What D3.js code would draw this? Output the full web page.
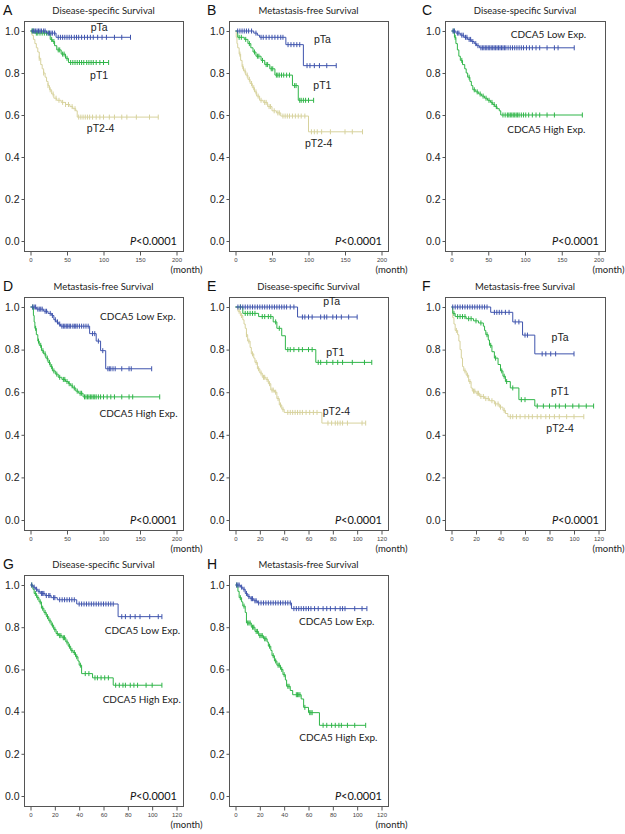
<!DOCTYPE html>
<html>
<head>
<meta charset="utf-8">
<script src="https://cdn.jsdelivr.net/npm/d3@7"></script>
<style>
  body { margin: 0; background: #fff; }
  svg { display: block; }
</style>
</head>
<body>
<div id="chart"></div>
<script>
// Panel text
var letters = ["A", "B", "C", "D", "E", "F", "G", "H"];
var titles = ["Disease-specific Survival", "Metastasis-free Survival", "Disease-specific Survival",
  "Metastasis-free Survival", "Disease-specific Survival", "Metastasis-free Survival",
  "Disease-specific Survival", "Metastasis-free Survival"];
var xMaxes = [200, 200, 200, 200, 120, 120, 120, 120];
var xTicks200 = [0, 50, 100, 150, 200];
var xTicks120 = [0, 20, 40, 60, 80, 100, 120];
var yTicks = [0, 0.2, 0.4, 0.6, 0.8, 1.0];
var pText = "<0.0001";

// Kaplan-Meier steps [month, survival] and censor times
// A
var aTaSteps = [[0, 1], [22, 0.99], [35, 0.97]];
var aTaCens = [3, 5, 7, 9, 11, 13, 15, 18, 20, 24, 26, 28, 30, 33, 38, 41, 44, 47, 50, 53, 56, 60, 63, 66, 70, 74, 78, 82, 86, 92, 98, 104, 115, 125, 137];
var aT1Steps = [[0, 1], [5, 0.99], [27, 0.96], [30, 0.95], [33, 0.93], [36, 0.91], [42, 0.89], [48, 0.87], [52, 0.85]];
var aT1Cens = [2, 4, 8, 10, 13, 16, 19, 22, 25, 29, 32, 38, 40, 44, 46, 50, 55, 58, 61, 64, 67, 70, 73, 77, 80, 83, 86, 90, 95, 100, 107];
var aT24Steps = [[0, 1], [2, 0.98], [4, 0.96], [6, 0.94], [8, 0.92], [10, 0.9], [12, 0.87], [14, 0.84], [16, 0.82], [18, 0.8], [20, 0.78], [22, 0.76], [24, 0.74], [26, 0.72], [29, 0.7], [32, 0.68], [36, 0.67], [42, 0.66], [48, 0.65], [54, 0.64], [58, 0.63], [62, 0.62], [64, 0.59]];
var aT24Cens = [12, 18, 24, 27, 31, 35, 39, 44, 48, 52, 57, 61, 66, 69, 72, 75, 78, 81, 85, 90, 95, 100, 108, 115, 125, 132, 145, 163, 175];
// B
var bTaSteps = [[0, 1], [25, 0.99], [30, 0.98], [33, 0.97], [69, 0.935], [93, 0.835]];
var bTaCens = [3, 6, 9, 12, 15, 18, 22, 28, 35, 38, 42, 46, 50, 54, 58, 62, 65, 72, 76, 80, 84, 88, 98, 102, 108, 115, 125, 138];
var bT1Steps = [[0, 1], [3, 0.97], [12, 0.96], [17, 0.94], [21, 0.92], [24, 0.9], [28, 0.88], [35, 0.86], [40, 0.84], [47, 0.82], [54, 0.79], [78, 0.74], [86, 0.67]];
var bT1Cens = [5, 8, 14, 19, 26, 30, 32, 37, 42, 44, 49, 51, 56, 58, 60, 63, 66, 70, 74, 81, 83, 88, 90, 93, 96, 100, 107];
var bT24Steps = [[0, 1], [1, 0.97], [2, 0.94], [3, 0.92], [5, 0.89], [7, 0.86], [9, 0.83], [11, 0.81], [14, 0.79], [17, 0.77], [20, 0.75], [23, 0.73], [26, 0.71], [29, 0.69], [33, 0.67], [38, 0.66], [44, 0.64], [50, 0.62], [56, 0.61], [62, 0.595], [100, 0.52]];
var bT24Cens = [6, 10, 13, 16, 19, 22, 25, 28, 31, 35, 40, 42, 46, 48, 53, 58, 60, 65, 68, 71, 74, 78, 82, 86, 90, 95, 104, 108, 112, 118, 130, 150, 160, 174];
// C
var cLowSteps = [[0, 1], [6, 0.99], [12, 0.98], [17, 0.97], [22, 0.96], [27, 0.95], [31, 0.94], [34, 0.93], [38, 0.92]];
var cLowCens = [2, 4, 8, 10, 14, 16, 19, 21, 24, 26, 29, 33, 36, 40, 42, 44, 46, 48, 50, 52, 54, 56, 58, 60, 62, 64, 66, 68, 70, 72, 74, 77, 80, 83, 86, 89, 92, 95, 98, 102, 106, 110, 115, 120, 130, 140, 145, 167];
var cHighSteps = [[0, 1], [4, 0.97], [6, 0.94], [8, 0.91], [10, 0.88], [12, 0.86], [15, 0.84], [18, 0.82], [20, 0.8], [22, 0.78], [25, 0.76], [27, 0.74], [29, 0.72], [33, 0.71], [37, 0.7], [41, 0.69], [45, 0.68], [49, 0.67], [53, 0.66], [56, 0.65], [59, 0.64], [62, 0.63], [65, 0.62], [67, 0.6]];
var cHighCens = [3, 5, 14, 24, 31, 35, 39, 43, 47, 51, 55, 58, 61, 70, 73, 76, 78, 80, 82, 84, 86, 88, 90, 92, 95, 98, 101, 105, 110, 115, 120, 130, 140, 178];
// D
var dLowSteps = [[0, 1], [8, 0.99], [18, 0.98], [24, 0.97], [29, 0.96], [32, 0.94], [35, 0.93], [38, 0.92], [41, 0.91], [81, 0.875], [90, 0.84], [96, 0.795], [103, 0.71]];
var dLowCens = [3, 5, 7, 10, 12, 14, 16, 20, 22, 27, 30, 34, 37, 40, 43, 45, 47, 49, 51, 53, 55, 58, 60, 62, 64, 67, 70, 73, 76, 79, 85, 88, 93, 99, 106, 108, 110, 113, 116, 125, 135, 138, 166];
var dHighSteps = [[0, 1], [4, 0.96], [5, 0.93], [6, 0.9], [8, 0.87], [10, 0.84], [12, 0.82], [15, 0.795], [18, 0.78], [21, 0.76], [24, 0.74], [27, 0.72], [30, 0.7], [34, 0.685], [38, 0.67], [43, 0.66], [48, 0.65], [52, 0.64], [55, 0.63], [58, 0.62], [62, 0.605], [66, 0.595], [72, 0.578]];
var dHighCens = [3, 7, 11, 14, 17, 20, 23, 26, 29, 32, 36, 40, 45, 47, 50, 53, 57, 60, 64, 68, 70, 74, 76, 78, 80, 82, 84, 86, 88, 90, 93, 96, 100, 105, 110, 115, 125, 135, 140, 177];
// E
var eTaSteps = [[0, 1], [51, 0.953]];
var eTaCens = [2, 4, 6, 8, 10, 12, 14, 16, 18, 20, 22, 24, 26, 28, 30, 32, 34, 36, 38, 40, 42, 45, 48, 55, 57, 60, 63, 70, 73, 75, 80, 83, 87, 93, 100];
var eT1Steps = [[0, 1], [6, 0.97], [19, 0.955], [31, 0.93], [34, 0.9], [38, 0.865], [41, 0.8], [66, 0.74]];
var eT1Cens = [4, 8, 10, 12, 14, 16, 22, 24, 27, 29, 33, 36, 43, 45, 48, 52, 55, 60, 63, 68, 70, 75, 80, 84, 88, 96, 106, 112];
var eT24Steps = [[0, 1], [2, 0.98], [4, 0.96], [6, 0.94], [7, 0.92], [8, 0.9], [9, 0.87], [10, 0.84], [12, 0.81], [13, 0.78], [15, 0.76], [16, 0.74], [18, 0.71], [20, 0.69], [22, 0.67], [25, 0.66], [27, 0.64], [29, 0.61], [32, 0.6], [34, 0.57], [36, 0.54], [38, 0.52], [40, 0.505], [71, 0.455]];
var eT24Cens = [3, 5, 9, 11, 14, 17, 19, 21, 23, 24, 26, 28, 30, 31, 33, 35, 37, 39, 43, 45, 47, 49, 51, 53, 55, 58, 61, 64, 67, 76, 79, 82, 84, 86, 88, 92, 104, 107];
// F
var fTaSteps = [[0, 1], [32, 0.975], [50, 0.93], [58, 0.868], [68, 0.78]];
var fTaCens = [1, 3, 5, 7, 9, 11, 13, 15, 17, 19, 21, 23, 25, 27, 29, 35, 37, 39, 41, 44, 47, 52, 55, 60, 62, 74, 77, 81, 85, 100];
var fT1Steps = [[0, 1], [1, 0.97], [3, 0.955], [12, 0.945], [18, 0.935], [22, 0.925], [26, 0.91], [27, 0.89], [28, 0.87], [30, 0.845], [31, 0.82], [33, 0.79], [35, 0.76], [38, 0.73], [40, 0.7], [42, 0.675], [44, 0.65], [48, 0.62], [55, 0.565], [68, 0.535]];
var fT1Cens = [2, 5, 7, 9, 11, 14, 16, 20, 24, 29, 32, 36, 41, 43, 45, 50, 57, 60, 70, 75, 80, 85, 88, 93, 99, 104, 110, 116];
var fT24Steps = [[0, 1], [1, 0.95], [2, 0.92], [3, 0.89], [5, 0.87], [6, 0.84], [7, 0.8], [8, 0.76], [9, 0.72], [10, 0.7], [12, 0.68], [14, 0.65], [16, 0.62], [17, 0.605], [20, 0.595], [23, 0.58], [27, 0.57], [31, 0.56], [35, 0.545], [39, 0.53], [42, 0.515], [44, 0.5], [46, 0.485]];
var fT24Cens = [4, 11, 13, 15, 18, 19, 21, 22, 24, 26, 28, 30, 33, 36, 38, 40, 43, 48, 50, 53, 56, 60, 63, 66, 70, 73, 77, 80, 84, 88, 94, 100, 108];
// G
var gLowSteps = [[0, 1], [2, 0.99], [4, 0.98], [6, 0.97], [8, 0.96], [12, 0.95], [17, 0.94], [22, 0.93], [38, 0.91], [72, 0.85]];
var gLowCens = [1, 3, 5, 7, 9, 10, 11, 13, 15, 16, 19, 20, 24, 26, 28, 30, 32, 34, 36, 40, 42, 44, 46, 48, 50, 52, 54, 56, 58, 60, 62, 64, 66, 68, 75, 78, 82, 86, 90, 98, 105, 108];
var gHighSteps = [[0, 1], [2, 0.98], [3, 0.96], [5, 0.94], [7, 0.92], [9, 0.89], [11, 0.87], [13, 0.85], [15, 0.83], [17, 0.81], [19, 0.79], [21, 0.77], [23, 0.76], [26, 0.75], [29, 0.73], [31, 0.71], [33, 0.69], [35, 0.68], [37, 0.66], [39, 0.64], [40, 0.62], [42, 0.58], [51, 0.56], [68, 0.525]];
var gHighCens = [1, 4, 6, 8, 10, 12, 14, 16, 18, 20, 22, 24, 25, 27, 28, 30, 32, 34, 36, 38, 41, 45, 48, 53, 55, 58, 61, 64, 70, 73, 76, 78, 82, 85, 88, 95, 100, 108];
// H
var hLowSteps = [[0, 1], [4, 0.99], [6, 0.98], [8, 0.96], [10, 0.945], [12, 0.935], [15, 0.925], [18, 0.915], [46, 0.888]];
var hLowCens = [1, 2, 3, 5, 7, 9, 11, 13, 14, 16, 17, 19, 21, 23, 25, 27, 29, 31, 33, 35, 37, 39, 41, 43, 45, 48, 50, 52, 54, 56, 58, 60, 62, 65, 68, 72, 75, 78, 82, 86, 88, 90, 98, 104, 108];
var hHighSteps = [[0, 1], [2, 0.97], [3, 0.94], [5, 0.92], [6, 0.9], [8, 0.87], [9, 0.82], [13, 0.8], [16, 0.78], [19, 0.76], [23, 0.745], [26, 0.73], [27, 0.71], [29, 0.69], [30, 0.665], [32, 0.64], [34, 0.62], [37, 0.6], [39, 0.575], [41, 0.55], [42, 0.52], [45, 0.5], [47, 0.48], [54, 0.46], [56, 0.42], [60, 0.395], [69, 0.335]];
var hHighCens = [1, 4, 7, 10, 11, 12, 14, 15, 17, 18, 20, 21, 22, 24, 25, 28, 31, 33, 35, 36, 38, 40, 43, 44, 50, 51, 52, 53, 57, 61, 62, 63, 72, 75, 79, 82, 85, 87, 92, 98, 107];

// curve labels: text and anchor [month, survival]
var stageNames = ["pTa", "pT1", "pT2-4"];
var exprNames = ["CDCA5 Low Exp.", "CDCA5 High Exp."];

var BLUE = "#3f54ad", GREEN = "#2fb548", TAN = "#d7d29d";

var panels = [
  { series: [[aT24Steps, aT24Cens, TAN], [aT1Steps, aT1Cens, GREEN], [aTaSteps, aTaCens, BLUE]],
    labels: [[stageNames[0], 94, 0.998], [stageNames[1], 94, 0.773], [stageNames[2], 96, 0.518]] },
  { series: [[bT24Steps, bT24Cens, TAN], [bT1Steps, bT1Cens, GREEN], [bTaSteps, bTaCens, BLUE]],
    labels: [[stageNames[0], 119, 0.942], [stageNames[1], 119, 0.722], [stageNames[2], 114, 0.447]] },
  { series: [[cHighSteps, cHighCens, GREEN], [cLowSteps, cLowCens, BLUE]],
    labels: [[exprNames[0], 132, 0.968], [exprNames[1], 129, 0.516]] },
  { series: [[dHighSteps, dHighCens, GREEN], [dLowSteps, dLowCens, BLUE]],
    labels: [[exprNames[0], 147, 0.937], [exprNames[1], 148, 0.484]] },
  { series: [[eT24Steps, eT24Cens, TAN], [eT1Steps, eT1Cens, GREEN], [eTaSteps, eTaCens, BLUE]],
    labels: [[stageNames[0], 79, 1.01], [stageNames[1], 82, 0.77], [stageNames[2], 83, 0.494]] },
  { series: [[fT24Steps, fT24Cens, TAN], [fT1Steps, fT1Cens, GREEN], [fTaSteps, fTaCens, BLUE]],
    labels: [[stageNames[0], 88.6, 0.84], [stageNames[1], 88.6, 0.588], [stageNames[2], 88.6, 0.414]] },
  { series: [[gHighSteps, gHighCens, GREEN], [gLowSteps, gLowCens, BLUE]],
    labels: [[exprNames[0], 92, 0.77], [exprNames[1], 91.4, 0.44]] },
  { series: [[hHighSteps, hHighCens, GREEN], [hLowSteps, hLowCens, BLUE]],
    labels: [[exprNames[0], 83.2, 0.81], [exprNames[1], 84.5, 0.262]] }
];

// layout of the 3x3 grid of frames
var colLeft = [24, 229, 445], colRight = [183, 388, 605], colLetter = [3, 207, 422];
var rowTop = [21, 297, 575], rowBottom = [251, 530, 806];

var svg = d3.select("#chart").append("svg")
    .attr("width", 625)
    .attr("height", 834);

var ARIAL = "'Liberation Sans', Arial, sans-serif";
var CALIBRI = "Lato, 'Open Sans', sans-serif";

// survival value at time t from a step list
function survAt(steps, t) {
  var s = steps[0][1];
  steps.forEach(function (p) { if (p[0] <= t) s = p[1]; });
  return s;
}

panels.forEach(function (p, i) {
  var col = i % 3, row = Math.floor(i / 3);
  var left = colLeft[col], right = colRight[col], top = rowTop[row], bottom = rowBottom[row];
  var xMax = xMaxes[i];
  var xTicks = xMax === 200 ? xTicks200 : xTicks120;

  var x = d3.scaleLinear().domain([0, xMax]).range([left + 6.5, right - 6.5]);
  var y = d3.scaleLinear().domain([0, 1]).range([bottom - 10, top + 10]);

  var g = svg.append("g");

  // panel letter and title
  g.append("text")
      .attr("x", colLetter[col]).attr("y", top - 6)
      .style("font-family", ARIAL).style("font-size", "14px")
      .attr("fill", "#111")
      .text(letters[i]);
  g.append("text")
      .attr("x", (left + right) / 2).attr("y", top - 7)
      .attr("text-anchor", "middle")
      .style("font-family", CALIBRI).style("font-size", "9.5px")
      .attr("fill", "#222")
      .text(titles[i]);

  // frame
  g.append("rect")
      .attr("x", left + 0.5).attr("y", top + 0.5)
      .attr("width", right - left).attr("height", bottom - top)
      .attr("fill", "none").attr("stroke", "#555").attr("stroke-width", 1);

  // y axis
  var yAxis = d3.axisLeft(y).tickValues(yTicks).tickFormat(d3.format(".1f")).tickSize(3).tickPadding(2);
  var ya = g.append("g").attr("transform", "translate(" + (left + 0.5) + ",0)").call(yAxis);
  ya.select(".domain").remove();
  ya.selectAll("line").attr("stroke", "#555");
  ya.selectAll("text").style("font-family", ARIAL).style("font-size", "10.5px").attr("fill", "#222");

  // x axis
  var xAxis = d3.axisBottom(x).tickValues(xTicks).tickSize(4).tickPadding(2);
  var xa = g.append("g").attr("transform", "translate(0," + (bottom + 0.5) + ")").call(xAxis);
  xa.select(".domain").remove();
  xa.selectAll("line").attr("stroke", "#555");
  xa.selectAll("text").style("font-family", ARIAL).style("font-size", "6px").attr("fill", "#444");

  g.append("text")
      .attr("x", x(xMax) - 6).attr("y", bottom + 22)
      .style("font-family", CALIBRI).style("font-size", "9.5px")
      .attr("fill", "#222")
      .text("(month)");

  // curves
  var line = d3.line()
      .x(function (d) { return x(d[0]); })
      .y(function (d) { return y(d[1]); })
      .curve(d3.curveStepAfter);

  p.series.forEach(function (s) {
    var steps = s[0], cens = s[1], color = s[2];
    var end = d3.max(cens);
    var pts = steps.concat([[end, steps[steps.length - 1][1]]]);
    g.append("path")
        .datum(pts)
        .attr("d", line)
        .attr("fill", "none")
        .attr("stroke", color)
        .attr("stroke-width", 1);
    g.selectAll(null)
        .data(cens)
        .enter()
        .append("line")
        .attr("x1", function (t) { return x(t); })
        .attr("x2", function (t) { return x(t); })
        .attr("y1", function (t) { return y(survAt(steps, t)) - 2.5; })
        .attr("y2", function (t) { return y(survAt(steps, t)) + 2.5; })
        .attr("stroke", color)
        .attr("stroke-width", 1);
  });

  // curve labels
  p.labels.forEach(function (l) {
    var isStage = l[0].charAt(0) === "p";
    g.append("text")
        .attr("x", x(l[1])).attr("y", y(l[2]))
        .attr("text-anchor", "middle")
        .style("font-family", isStage ? ARIAL : CALIBRI)
        .style("font-size", isStage ? "10.5px" : "10px")
        .attr("fill", "#222")
        .text(l[0]);
  });

  // P value
  var pt = g.append("text")
      .attr("x", right - 6).attr("y", bottom - 6)
      .attr("text-anchor", "end")
      .style("font-family", CALIBRI).style("font-size", "11px")
      .attr("fill", "#111");
  pt.append("tspan").style("font-style", "italic").text("P");
  pt.append("tspan").text(pText);
});
</script>
</body>
</html>
